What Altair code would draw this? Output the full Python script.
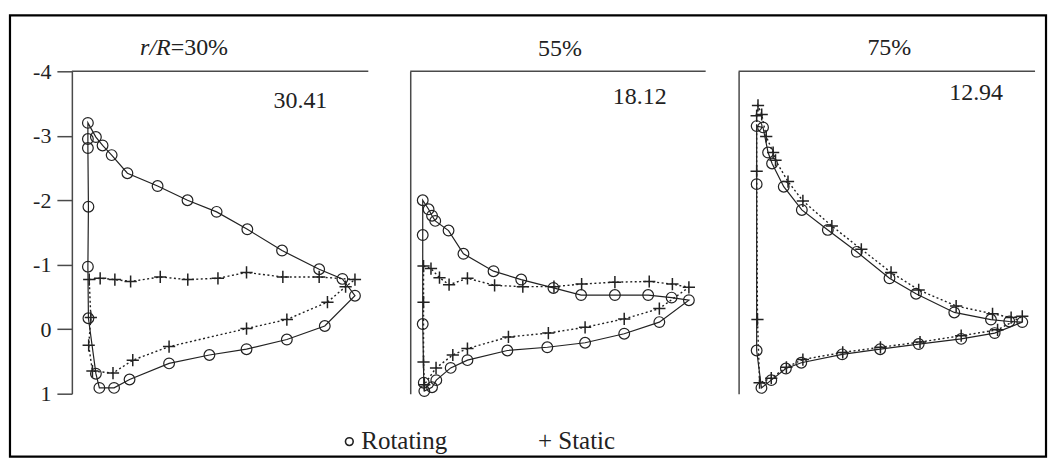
import altair as alt
import pandas as pd

# Chordwise pressure distributions (x/c, Cp) at three radial stations.
# Each loop runs suction side LE -> TE, then pressure side TE -> LE.
r30_rot_x = [0.0, 0.030, 0.055, 0.089, 0.148, 0.261, 0.373, 0.482, 0.597, 0.727, 0.866, 0.953, 1.0,
             0.887, 0.745, 0.594, 0.455, 0.304, 0.156, 0.098, 0.043, 0.030, 0.002, 0.0, 0.002, 0.0, 0.0]
r30_rot_cp = [-3.20, -2.98, -2.85, -2.70, -2.42, -2.22, -2.00, -1.82, -1.55, -1.22, -0.93, -0.78, -0.52,
              -0.05, 0.16, 0.31, 0.40, 0.53, 0.78, 0.91, 0.91, 0.69, -0.17, -0.97, -1.90, -2.81, -2.95]
r30_sta_x = [0.005, 0.046, 0.101, 0.160, 0.271, 0.374, 0.487, 0.594, 0.730, 0.866, 1.0,
             0.965, 0.897, 0.745, 0.594, 0.304, 0.168, 0.094, 0.017, 0.003, 0.011]
r30_sta_cp = [-0.77, -0.79, -0.77, -0.74, -0.81, -0.77, -0.79, -0.88, -0.81, -0.81, -0.77,
              -0.66, -0.42, -0.15, -0.01, 0.27, 0.48, 0.68, 0.65, 0.25, -0.18]

r55_rot_x = [0.0, 0.022, 0.035, 0.047, 0.097, 0.153, 0.266, 0.370, 0.491, 0.595, 0.722, 0.847, 0.935, 1.0,
             0.889, 0.757, 0.610, 0.468, 0.318, 0.168, 0.105, 0.051, 0.035, 0.006, 0.004, 0.0, 0.0]
r55_rot_cp = [-2.00, -1.86, -1.76, -1.68, -1.53, -1.17, -0.90, -0.77, -0.64, -0.53, -0.53, -0.53, -0.49, -0.45,
              -0.11, 0.07, 0.21, 0.28, 0.33, 0.48, 0.60, 0.79, 0.90, 0.96, 0.83, -0.08, -1.46]
r55_sta_x = [0.003, 0.031, 0.063, 0.099, 0.168, 0.270, 0.376, 0.493, 0.597, 0.722, 0.851, 0.938, 1.0,
             0.889, 0.757, 0.610, 0.472, 0.322, 0.168, 0.113, 0.050, 0.006, 0.003, 0.003]
r55_sta_cp = [-0.98, -0.94, -0.80, -0.69, -0.79, -0.68, -0.66, -0.66, -0.70, -0.73, -0.74, -0.70, -0.65,
              -0.32, -0.16, -0.03, 0.06, 0.12, 0.30, 0.40, 0.60, 0.86, 0.51, -0.42]

r75_rot_x = [0.0, 0.024, 0.043, 0.058, 0.102, 0.170, 0.268, 0.377, 0.500, 0.600, 0.744, 0.882, 0.951, 1.0,
             0.896, 0.770, 0.610, 0.465, 0.322, 0.168, 0.110, 0.055, 0.018, 0.0, 0.0]
r75_rot_cp = [-3.15, -3.13, -2.74, -2.57, -2.21, -1.85, -1.54, -1.20, -0.79, -0.55, -0.26, -0.15, -0.12, -0.11,
              0.06, 0.15, 0.23, 0.31, 0.39, 0.52, 0.61, 0.79, 0.91, 0.33, -2.25]
r75_sta_x = [0.0, 0.005, 0.019, 0.036, 0.062, 0.071, 0.118, 0.174, 0.283, 0.394, 0.506, 0.610, 0.751, 0.888, 0.958, 1.0,
             0.907, 0.770, 0.615, 0.466, 0.324, 0.174, 0.112, 0.055, 0.011, 0.003, 0.0]
r75_sta_cp = [-3.31, -3.47, -3.33, -2.99, -2.74, -2.62, -2.29, -1.99, -1.60, -1.24, -0.88, -0.61, -0.36, -0.24, -0.18, -0.20,
              0.01, 0.10, 0.20, 0.28, 0.36, 0.47, 0.59, 0.76, 0.83, -0.15, -2.45]

station_titles = ["30%", "55%", "75%"]
station_values = ["30.41", "18.12", "12.94"]
cp_ticks = [-4, -3, -2, -1, 0, 1]

SERIF = "Liberation Serif"
INK = "#222222"
AXIS = "#4a4a4a"
PLUS = "M-1,0H1M0,-1V1"


def loop(xs, cps, series):
    return pd.DataFrame({"xc": xs, "cp": cps, "series": series, "k": list(range(len(xs)))})


def label(text, x, y, size=24, align="left", style="normal"):
    return alt.Chart(pd.DataFrame({"t": [text]})).mark_text(
        font=SERIF, fontSize=size, color=INK, align=align, baseline="alphabetic", fontStyle=style
    ).encode(x=alt.value(x), y=alt.value(y), text="t:N")


def top_line(length):
    return alt.Chart(pd.DataFrame({"a": [0]})).mark_rule(color=AXIS, strokeWidth=1.5).encode(
        x=alt.value(0), x2=alt.value(length), y=alt.value(0))


def panel(rot, sta, xdom, width, first, extras):
    df = pd.concat([loop(*rot, "Rotating"), loop(*sta, "Static")], ignore_index=True)
    if first:
        yaxis = alt.Axis(values=cp_ticks, tickSize=15, tickColor=AXIS, tickWidth=1.5,
                         domainColor=AXIS, domainWidth=1.5, labelFont=SERIF, labelFontSize=22,
                         labelColor=INK, labelPadding=6, labelExpr="'' + datum.value",
                         grid=False, title=None)
    else:
        yaxis = alt.Axis(labels=False, ticks=False, domainColor=AXIS, domainWidth=1.5,
                         grid=False, title=None)
    xaxis = alt.Axis(orient="top", labels=False, ticks=False, domain=False, grid=False, title=None)
    base = alt.Chart(df).encode(
        x=alt.X("xc:Q", scale=alt.Scale(domain=xdom, nice=False, zero=False), axis=xaxis),
        y=alt.Y("cp:Q", scale=alt.Scale(domain=[-4, 1], reverse=True, nice=False, zero=False),
                axis=yaxis),
        order="k:Q",
    )
    rot_df = base.transform_filter(alt.datum.series == "Rotating")
    sta_df = base.transform_filter(alt.datum.series == "Static")
    rot_line = rot_df.mark_line(interpolate="linear-closed", color=INK, strokeWidth=1.2)
    sta_line = sta_df.mark_line(interpolate="linear-closed", color=INK, strokeWidth=1.4,
                                strokeDash=[2, 2.5])
    rot_pts = rot_df.mark_point(shape="circle", size=115, filled=False, color=INK,
                                strokeWidth=1.2, opacity=1)
    sta_pts = sta_df.mark_point(shape=PLUS, size=150, filled=False, color=INK,
                                strokeWidth=1.5, opacity=1)
    return alt.layer(rot_line, sta_line, rot_pts, sta_pts, *extras).properties(
        width=width, height=323)


# outer border around the whole figure
border = alt.Chart(pd.DataFrame({"a": [0]})).mark_rect(
    fillOpacity=0, stroke="black", strokeWidth=2.2
).encode(x=alt.value(-62), x2=alt.value(976), y=alt.value(-56), y2=alt.value(386))

# first panel is 9 px wider than its frame line, which leaves the wider gap before panel two
p1 = panel((r30_rot_x, r30_rot_cp), (r30_sta_x, r30_sta_cp), [-0.06, 1.0836], 306, True, [
    top_line(297),
    border,
    label("r/R", 99, -16, align="right", style="italic"),
    label("=" + station_titles[0], 99, -16),
    label(station_values[0], 202, 37),
])

legend_marker = alt.Chart(pd.DataFrame({"a": [0]})).mark_point(
    shape="circle", size=60, filled=False, color=INK, strokeWidth=1.6, opacity=1
).encode(x=alt.value(-61), y=alt.value(371))

p2 = panel((r55_rot_x, r55_rot_cp), (r55_sta_x, r55_sta_cp), [-0.047, 1.063], 296, False, [
    top_line(296),
    label(station_titles[1], 150, -15, align="center"),
    label(station_values[1], 203, 33),
    legend_marker,
    label("Rotating", -49, 378, size=25),
    label("+ Static", 128, 378, size=25),
])

p3 = panel((r75_rot_x, r75_rot_cp), (r75_sta_x, r75_sta_cp), [-0.068, 1.048], 297, False, [
    top_line(297),
    label(station_titles[2], 151, -16, align="center"),
    label(station_values[2], 211, 29),
])

chart = alt.hconcat(p1, p2, p3, spacing=33, bounds="flush").properties(
    padding={"left": 8, "top": 13, "right": 6, "bottom": 2}, background="white"
).configure_view(stroke=None)

chart.save("out.html", embed_options={"renderer": "svg", "actions": False})
